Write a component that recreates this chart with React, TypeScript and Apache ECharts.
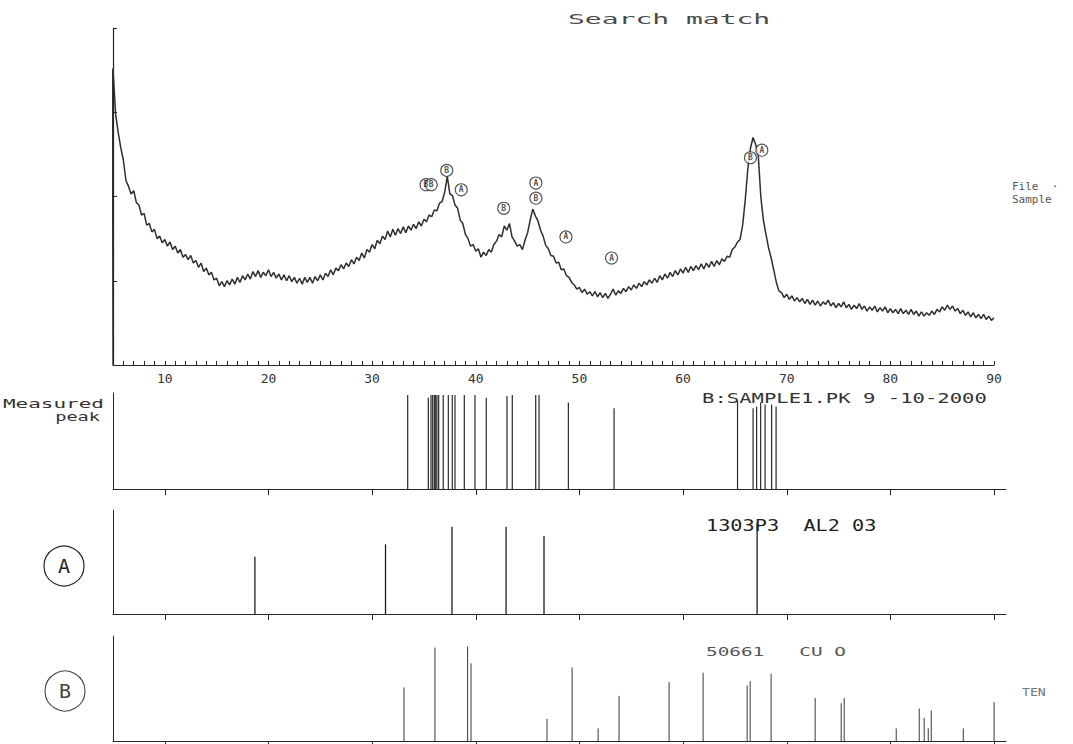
import React, { useEffect, useRef } from 'react';
import * as echarts from 'echarts';

const INK = '#262626';
const MONO = '"DejaVu Sans Mono", "Liberation Mono", monospace';

// 2-theta sampling of the measured pattern (degrees)
const START_DEG = 5;
const STEP_DEG = 0.25;
// the trace rises from the baseline at the very start of the scan
const leadIn: number[][] = [[4.9, 0], [4.95, 345]];
// measured intensity (counts), one value every 0.25 degrees from 5 to 90
const intensity: number[] = [
  352, 298, 276, 258, 243, 219, 212, 203, 207, 193, 190, 178, 180, 166, 168, 158,
  161, 150, 153, 145, 149, 141, 146, 137, 141, 133, 137, 128, 131, 125, 130, 121,
  124, 116, 121, 111, 115, 107, 110, 101, 103, 94, 99, 93, 100, 95, 102, 96,
  104, 98, 106, 101, 108, 102, 111, 105, 112, 104, 110, 106, 113, 105, 110, 103,
  108, 101, 107, 100, 106, 99, 104, 97, 103, 96, 104, 98, 104, 97, 105, 100,
  107, 101, 109, 105, 113, 107, 115, 112, 119, 114, 121, 117, 125, 120, 128, 124,
  133, 127, 137, 134, 143, 138, 148, 144, 153, 149, 159, 152, 161, 154, 162, 156,
  164, 157, 165, 160, 167, 162, 170, 165, 173, 170, 178, 176, 184, 183, 192, 194,
  205, 224, 203, 201, 190, 186, 172, 168, 155, 150, 141, 143, 135, 138, 128, 134,
  130, 137, 134, 143, 147, 155, 152, 165, 160, 168, 152, 147, 141, 143, 137, 148,
  157, 172, 185, 177, 171, 160, 153, 142, 138, 130, 129, 121, 122, 113, 114, 106,
  104, 98, 95, 90, 92, 86, 90, 84, 87, 82, 87, 81, 86, 80, 85, 79,
  84, 90, 83, 88, 85, 91, 87, 93, 89, 95, 91, 97, 93, 99, 95, 101,
  97, 103, 98, 106, 101, 108, 103, 110, 105, 112, 107, 114, 109, 116, 110, 117,
  112, 118, 113, 120, 114, 121, 116, 123, 117, 124, 119, 126, 123, 129, 128, 137,
  140, 146, 149, 166, 196, 233, 257, 270, 262, 250, 200, 172, 155, 139, 127, 113,
  98, 88, 86, 80, 84, 78, 82, 76, 80, 75, 79, 73, 78, 72, 77, 71,
  76, 70, 75, 72, 77, 70, 74, 68, 73, 69, 75, 68, 72, 66, 71, 67,
  73, 66, 70, 64, 69, 65, 70, 63, 68, 64, 69, 62, 67, 62, 66, 61,
  67, 61, 65, 60, 66, 60, 64, 58, 63, 58, 62, 59, 64, 60, 66, 63,
  69, 65, 71, 66, 70, 64, 67, 61, 65, 59, 63, 57, 62, 56, 60, 55,
  60, 54, 58, 53, 56,
];

// peak markers on the pattern: [2-theta, intensity, phase letter]
const peakMarkers: [number, number, string][] = [
  [35.2, 214, 'B'], [35.7, 214, 'B'], [37.2, 231, 'B'], [38.6, 208, 'A'],
  [42.7, 186, 'B'], [45.8, 216, 'A'], [45.8, 198, 'B'], [48.7, 152, 'A'],
  [53.1, 127, 'A'], [66.5, 246, 'B'], [67.6, 255, 'A'],
];

// measured peak list (2-theta, relative height)
const measuredPeaks: number[][] = [
  [33.43, 98], [35.42, 95], [35.68, 98], [35.84, 98], [36.0, 98], [36.13, 98],
  [36.25, 98], [36.42, 98], [36.86, 98], [37.35, 98], [37.73, 98], [37.99, 98],
  [38.89, 98], [39.92, 98], [41.01, 95], [43.01, 97], [43.52, 98], [45.78, 98],
  [46.1, 98], [48.93, 90], [53.34, 84], [65.25, 92], [66.75, 84], [67.09, 86],
  [67.48, 90], [67.91, 88], [68.54, 88], [68.97, 86],
];

// reference A: 1303P3 AL2 O3
const refA: number[][] = [
  [18.69, 55], [31.29, 67], [37.7, 84], [42.92, 84], [46.58, 75], [67.14, 87],
];

// reference B: 50661 CU O
const refB: number[][] = [
  [33.07, 51], [36.06, 89], [39.21, 90], [39.54, 74], [46.87, 21], [49.29, 70],
  [51.8, 12], [53.82, 43], [58.65, 56], [61.93, 65], [66.18, 53], [66.47, 57],
  [68.49, 64], [72.74, 41], [75.25, 36], [75.54, 41], [80.56, 12], [82.78, 31],
  [83.26, 22], [83.65, 12], [83.94, 29], [87.03, 12], [90.0, 37],
];

const majorTicks = [10, 20, 30, 40, 50, 60, 70, 80, 90];

export default function App() {
  const ref = useRef<HTMLDivElement>(null);

  useEffect(() => {
    const chart = echarts.init(ref.current!, null, { renderer: 'svg' });

    const curve: number[][] = [
      ...leadIn,
      ...intensity.map((v, i) => [START_DEG + i * STEP_DEG, v]),
    ];
    const minorTicks: number[] = [];
    for (let d = 5; d <= 90; d += 1) minorTicks.push(d);

    const GRID_LEFT = 113;
    const grids = [
      { left: GRID_LEFT, top: 28, width: 881, height: 337 },
      { left: GRID_LEFT, top: 393, width: 893, height: 96 },
      { left: GRID_LEFT, top: 510, width: 893, height: 104 },
      { left: GRID_LEFT, top: 636, width: 893, height: 105 },
    ];

    const lowerX = (gridIndex: number) => ({
      type: 'value',
      gridIndex,
      min: 5,
      max: 91.15,
      axisLine: { show: true, onZero: false, lineStyle: { color: INK, width: 1 } },
      axisTick: { show: true, inside: false, length: 6, customValues: majorTicks, lineStyle: { color: INK } },
      axisLabel: { show: false },
      splitLine: { show: false },
    });
    const lowerY = (gridIndex: number) => ({
      type: 'value',
      gridIndex,
      min: 0,
      max: 100,
      axisLine: { show: true, lineStyle: { color: INK, width: 1 } },
      axisTick: { show: false },
      axisLabel: { show: false },
      splitLine: { show: false },
    });

    const stick = (xAxisIndex: number, data: number[][], width: number, color: string) => ({
      type: 'custom',
      xAxisIndex,
      yAxisIndex: xAxisIndex,
      data,
      encode: { x: 0, y: 1 },
      renderItem: (_p: any, api: any) => {
        const top = api.coord([api.value(0), api.value(1)]);
        const base = api.coord([api.value(0), 0]);
        return {
          type: 'line',
          shape: { x1: base[0], y1: base[1], x2: top[0], y2: top[1] },
          style: { stroke: color, lineWidth: width },
        };
      },
    });

    const txt = (x: number, y: number, text: string, size: number, fill: string, scaleX = 1, align = 'left', family = MONO) => ({
      type: 'text',
      x,
      y,
      scaleX,
      style: {
        text,
        fontSize: size,
        fontFamily: family,
        fill,
        textAlign: align,
        textVerticalAlign: 'middle',
      },
    });

    chart.setOption({
      animation: false,
      backgroundColor: '#ffffff',
      grid: grids,
      xAxis: [
        {
          type: 'value',
          gridIndex: 0,
          min: 5,
          max: 90,
          axisLine: { show: true, onZero: false, lineStyle: { color: INK, width: 1 } },
          axisTick: { show: true, inside: true, length: 4, customValues: minorTicks, lineStyle: { color: INK } },
          axisLabel: {
            show: true,
            customValues: majorTicks,
            margin: 7,
            color: '#333',
            fontSize: 13,
            fontFamily: MONO,
          },
          splitLine: { show: false },
        },
        lowerX(1),
        lowerX(2),
        lowerX(3),
      ],
      yAxis: [
        {
          type: 'value',
          gridIndex: 0,
          min: 0,
          max: 400,
          interval: 100,
          axisLine: { show: true, lineStyle: { color: INK, width: 1.2 } },
          axisTick: { show: true, inside: true, length: 4, lineStyle: { color: INK } },
          axisLabel: { show: false },
          splitLine: { show: false },
        },
        lowerY(1),
        lowerY(2),
        lowerY(3),
      ],
      series: [
        {
          type: 'line',
          xAxisIndex: 0,
          yAxisIndex: 0,
          data: curve,
          showSymbol: false,
          symbol: 'none',
          lineStyle: { color: '#2e2e2e', width: 1.5 },
          z: 2,
        },
        {
          type: 'scatter',
          xAxisIndex: 0,
          yAxisIndex: 0,
          data: peakMarkers,
          symbol: 'circle',
          symbolSize: 12,
          itemStyle: { color: '#ffffff', borderColor: INK, borderWidth: 1.1 },
          label: {
            show: true,
            position: 'inside',
            formatter: (p: any) => p.data[2],
            fontSize: 8,
            fontWeight: 'bold',
            fontFamily: MONO,
            color: INK,
          },
          z: 3,
        },
        stick(1, measuredPeaks, 1.2, '#2a2a2a'),
        stick(2, refA, 1.3, '#1e1e1e'),
        stick(3, refB, 1, '#3a3a3a'),
      ],
      graphic: [
        txt(568, 19, 'Search match', 14, '#4a4a4a', 2.0),
        txt(1012, 186, 'File  ·', 11, '#555'),
        txt(1012, 199, 'Sample', 11, '#555'),
        txt(104, 404, 'Measured', 12, '#333', 1.75, 'right'),
        txt(100, 417, 'peak', 12, '#333', 1.55, 'right'),
        txt(702, 398, 'B:SAMPLE1.PK 9 -10-2000', 14, '#333', 1.47),
        txt(706, 526, '1303P3  AL2 03', 15, '#1e1e1e', 1.35),
        txt(706, 652, '50661   CU O', 13, '#555', 1.49),
        txt(1022, 692, 'TEN', 11, '#777', 1.2),
        {
          type: 'circle',
          shape: { cx: 64, cy: 566, r: 20 },
          style: { fill: 'none', stroke: INK, lineWidth: 1.2 },
        },
        txt(64, 566, 'A', 20, INK, 1, 'center'),
        {
          type: 'circle',
          shape: { cx: 65, cy: 691, r: 20 },
          style: { fill: 'none', stroke: '#444', lineWidth: 1.1 },
        },
        txt(65, 691, 'B', 20, '#444', 1, 'center'),
      ],
    });

    return () => chart.dispose();
  }, []);

  return (
    <div
      ref={ref}
      style={{ position: 'fixed', left: 0, top: 0, width: 1073, height: 744, background: '#fff' }}
    />
  );
}
